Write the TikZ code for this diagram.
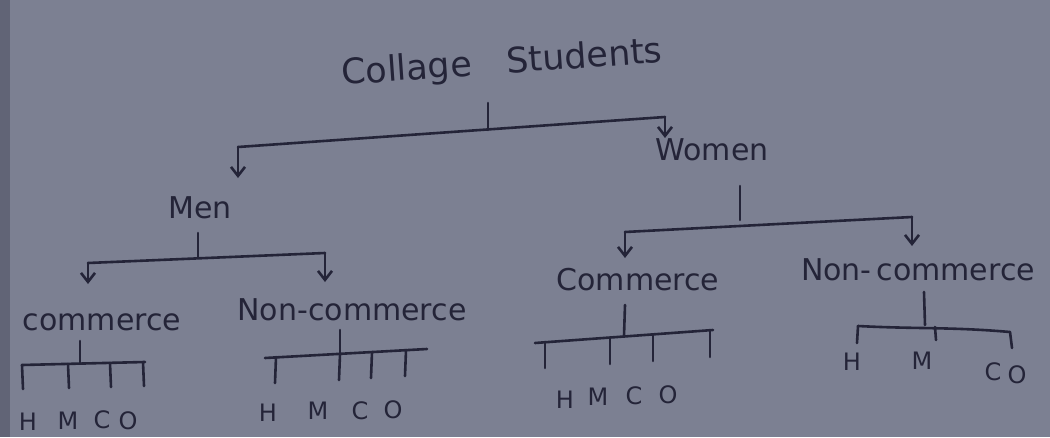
\documentclass[tikz,border=0pt]{standalone}
\usepackage{fontspec}
\setmainfont{DejaVu Sans}
\usetikzlibrary{arrows.meta}
\definecolor{paper}{RGB}{124,128,146}
\definecolor{ink}{RGB}{36,36,56}
\tikzset{
  lbl/.style={text=ink, inner sep=1pt, font=\fontsize{30}{32}\selectfont},
  small/.style={text=ink, inner sep=1pt, font=\fontsize{24}{26}\selectfont},
  ln/.style={draw=ink, line width=2.6pt, line cap=round},
  arr/.style={ln, -{Straight Barb[length=9pt,width=14pt]}},
}
\begin{document}
\begin{tikzpicture}[x=1pt,y=-1pt]
\fill[paper] (0,0) rectangle (1050,437);
\useasboundingbox (0,0) rectangle (1050,437);
\fill[ink!60!paper, opacity=0.5] (0,0) rectangle (10,437);
% root
\node[lbl, rotate=4, font=\fontsize{35}{37}\selectfont] (root) at (502,64) {Collage\quad Students};
\coordinate (rt) at (488,103);
\coordinate (rb) at (488,130);
\coordinate (rl) at (238,147);
\coordinate (rr) at (665,117);
\node[lbl] (men) at (200,208) {Men};
\node[lbl] (women) at (712,150) {Women};
\draw[ln] (rt) -- (rb);
\draw[ln] (rl) -- (rr);
\draw[arr] (rl) -- (238,178);
\draw[arr] (rr) -- (665,138);
% men
\coordinate (mt) at (198,233);
\coordinate (mb) at (198,258);
\coordinate (ml) at (88,263);
\coordinate (mr) at (325,253);
\draw[ln] (mt) -- (mb);
\draw[ln] (ml) -- (mr);
\draw[arr] (ml) -- (88,284);
\draw[arr] (mr) -- (325,282);
\node[lbl] (mc) at (102,322) {commerce};
\node[lbl] (mn) at (352,310) {Non-commerce};
% women
\coordinate (wt) at (740,186);
\coordinate (wb) at (740,220);
\coordinate (wl) at (625,232);
\coordinate (wr) at (912,217);
\draw[ln] (wt) -- (wb);
\draw[ln] (wl) -- (wr);
\draw[arr] (wl) -- (625,258);
\draw[arr] (wr) -- (912,246);
\node[lbl] (wc) at (638,280) {Commerce};
\node[lbl] (wn) at (918,270) {Non-\,commerce};
% men commerce leaves
\draw[ln] (80,341) -- (80,363);
\draw[ln] (22,365) -- (145,362);
\foreach \x/\y in {22/365, 68/364, 110/363, 143/362} \draw[ln] (\x,\y) -- (\x+1,\y+24);
\node[small] (mch) at (28,422) {H};
\node[small] (mcm) at (68,421) {M};
\node[small] (mcc) at (102,420) {C};
\node[small] (mco) at (128,421) {O};
% men non-commerce leaves
\draw[ln] (340,330) -- (340,356);
\draw[ln] (265,358) -- (427,349);
\foreach \x/\y in {276/357, 340/354, 372/352, 406/350} \draw[ln] (\x,\y) -- (\x-1,\y+26);
\node[small] (mnh) at (268,413) {H};
\node[small] (mnm) at (318,411) {M};
\node[small] (mnc) at (360,411) {C};
\node[small] (mno) at (393,410) {O};
% women commerce leaves
\draw[ln] (625,305) -- (624,336);
\draw[ln] (535,343) -- (713,330);
\foreach \x/\y in {545/342, 610/338, 653/335, 710/331} \draw[ln] (\x,\y) -- (\x,\y+26);
\node[small] (wch) at (565,400) {H};
\node[small] (wcm) at (598,397) {M};
\node[small] (wcc) at (634,396) {C};
\node[small] (wco) at (668,395) {O};
% women non-commerce leaves
\draw[ln] (924,292) -- (925,325);
\draw[ln] (858,326) to[out=-3,in=175] (1010,332);
\draw[ln] (858,326) -- (857,343);
\draw[ln] (935,327) -- (936,340);
\draw[ln] (1010,332) -- (1012,348);
\node[small] (wnh) at (852,362) {H};
\node[small] (wnm) at (922,361) {M};
\node[small] (wnc) at (993,372) {C};
\node[small] (wno) at (1017,375) {O};
\end{tikzpicture}
\end{document}
